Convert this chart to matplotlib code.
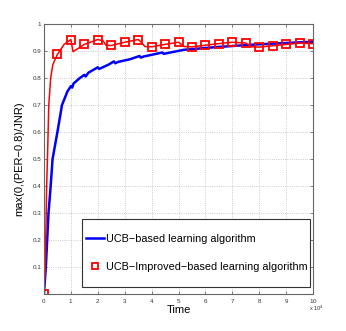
import matplotlib
matplotlib.use('Agg')
import matplotlib.pyplot as plt
from matplotlib.lines import Line2D
from matplotlib.patches import Rectangle
from matplotlib.ticker import ScalarFormatter

plt.rcParams['font.family'] = ['Liberation Sans', 'DejaVu Sans']

# time in units of 1e4
blue_t = [0, 0.07, 0.12, 0.17, 0.25, 0.32, 0.5, 0.67, 0.87, 1.0, 1.05, 1.1, 1.33, 1.5, 1.55,
          1.65, 2.0, 2.05, 2.4, 2.6, 2.65, 2.75, 3.2, 3.55, 3.6, 3.7, 4.4, 4.45, 5.2,
          6.4, 7.9, 10]
blue_v = [0, 0.1, 0.2, 0.3, 0.4, 0.5, 0.6, 0.7, 0.75, 0.77, 0.765, 0.78, 0.8, 0.812, 0.806,
          0.82, 0.84, 0.834, 0.85, 0.862, 0.855, 0.86, 0.87, 0.882, 0.876, 0.88, 0.895, 0.89, 0.905,
          0.915, 0.925, 0.935]

red_t = [0, 0.05, 0.1, 0.13, 0.18, 0.25, 0.33, 0.42, 0.5, 0.75, 1.0, 1.08, 1.5, 2.0,
         2.2, 2.3, 2.5, 3.0, 3.5, 3.6, 3.75, 4.0, 4.5, 5.0, 5.2, 5.5, 6.0, 6.5,
         7.0, 7.5, 7.7, 8.0, 8.5, 9.0, 9.5, 10.0]
red_v = [0, 0.1, 0.4, 0.5, 0.7, 0.8, 0.85, 0.87, 0.888, 0.925, 0.943, 0.898, 0.925, 0.943,
         0.938, 0.922, 0.921, 0.933, 0.943, 0.935, 0.917, 0.916, 0.925, 0.933, 0.917, 0.916,
         0.922, 0.928, 0.933, 0.930, 0.916, 0.915, 0.920, 0.925, 0.930, 0.928]

labels = ['UCB\u2212based learning algorithm', 'UCB\u2212Improved\u2212based learning algorithm']

fig = plt.figure(figsize=(3.46, 3.31), dpi=100)
ax = fig.add_axes([0.127, 0.112, 0.778, 0.815])

ax.plot([t * 1e4 for t in blue_t], blue_v, color='#0000ff', lw=1.8)
marks = [i for i, t in enumerate(red_t) if abs(t * 2 - round(t * 2)) < 1e-6]
ax.plot([t * 1e4 for t in red_t], red_v, color='#ff0000', lw=1.1,
        marker='s', markevery=marks, markersize=5.5, markerfacecolor='none',
        markeredgecolor='#ff0000', markeredgewidth=1.3)

ax.set_xlim(0, 1e5)
ax.set_ylim(0, 1)
ax.set_xticks([i * 1e4 for i in range(11)])
ax.set_yticks([i / 10 for i in range(11)])
ax.set_yticklabels([''] + ['%g' % (i / 10) for i in range(1, 11)])
fmt = ScalarFormatter(useMathText=True)
fmt.set_powerlimits((4, 4))
ax.xaxis.set_major_formatter(fmt)
# offset text placed by hand, like matlab's "x 10^4"
ax.xaxis.get_offset_text().set_visible(False)
ax.text(0.985, -0.038, r'x 10$^4$', transform=ax.transAxes, ha='left', va='top',
        fontsize=4, color='#333333')

ax.tick_params(direction='in', top=True, right=True, length=2.5, width=0.5, pad=2,
               labelsize=4.5, colors='#555555', labelcolor='#333333')
for s in ax.spines.values():
    s.set_color('#666666')
    s.set_linewidth(0.8)
ax.grid(True, linestyle=':', color='#bbbbbb', lw=0.6)

ax.set_xlabel('Time', fontsize=8, labelpad=0)
ax.set_ylabel('max(0,(PER\u22120.8)/JNR)', fontsize=8, labelpad=6)

# legend box drawn separately, entries placed inside it
ax.add_patch(Rectangle((0.141, 0.026), 0.849, 0.252, transform=ax.transAxes,
                       facecolor='white', edgecolor='#333333', lw=0.8, zorder=4))
handles = [Line2D([], [], color='#0000ff', lw=1.8),
           Line2D([], [], color='#ff0000', ls='none', marker='s', markersize=5,
                  markerfacecolor='none', markeredgewidth=1.3)]
leg = ax.legend(handles, labels, loc='center left', bbox_to_anchor=(0.141, 0.152),
                borderaxespad=0, fontsize=7.8, labelspacing=1.6, borderpad=0.4,
                handlelength=1.6, handletextpad=0.25, frameon=False)
leg.set_zorder(5)

fig.savefig('out.png', dpi=100)
